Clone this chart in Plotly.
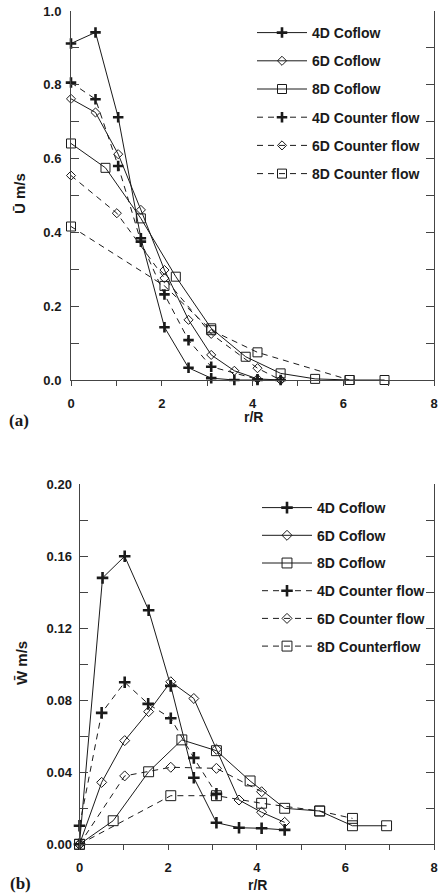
import plotly.graph_objects as go

# ---------------- data: panel (a) mean axial velocity U ----------------
u4co_r = [0, 0.54, 1.04, 1.54, 2.06, 2.59, 3.09, 3.60, 4.11, 4.62]
u4co_v = [0.912, 0.942, 0.712, 0.384, 0.143, 0.033, 0.005, 0.0, 0.0, 0.0]
u6co_r = [0, 0.54, 1.04, 1.54, 2.06, 2.59, 3.09, 3.60, 4.11, 4.62]
u6co_v = [0.762, 0.725, 0.612, 0.461, 0.298, 0.163, 0.068, 0.025, 0.003, 0.0]
u8co_r = [0, 0.76, 1.54, 2.31, 3.09, 3.85, 4.62, 5.38, 6.14, 6.91]
u8co_v = [0.641, 0.575, 0.438, 0.280, 0.140, 0.063, 0.018, 0.003, 0.0, 0.0]
u4ct_r = [0, 0.54, 1.04, 1.54, 2.06, 2.59, 3.09, 4.11]
u4ct_v = [0.806, 0.761, 0.580, 0.375, 0.232, 0.108, 0.036, 0.002]
u6ct_r = [0, 1.01, 2.06, 3.09, 4.11, 4.62]
u6ct_v = [0.554, 0.452, 0.276, 0.125, 0.032, 0.0]
u8ct_r = [0, 2.06, 3.09, 4.11, 6.14]
u8ct_v = [0.416, 0.255, 0.135, 0.075, 0.0]

# ---------------- data: panel (b) mean swirl velocity W ----------------
w4co_r = [0, 0.52, 1.02, 1.56, 2.06, 2.58, 3.09, 3.60, 4.11, 4.63]
w4co_v = [0.0, 0.148, 0.160, 0.130, 0.088, 0.037, 0.012, 0.0092, 0.0089, 0.008]
w6co_r = [0, 0.50, 1.02, 1.56, 2.06, 2.58, 3.09, 3.60, 4.11, 4.63]
w6co_v = [0.0, 0.0344, 0.0576, 0.0737, 0.0903, 0.081, 0.0528, 0.0246, 0.0178, 0.0122]
w8co_r = [0, 0.76, 1.56, 2.31, 3.09, 3.85, 4.63, 5.42, 6.16, 6.93]
w8co_v = [0.0, 0.0131, 0.0403, 0.058, 0.052, 0.0352, 0.020, 0.0185, 0.0103, 0.0103]
w4ct_r = [0, 0.50, 1.02, 1.55, 2.06, 2.58, 3.09]
w4ct_v = [0.0103, 0.073, 0.090, 0.078, 0.070, 0.048, 0.028]
w6ct_r = [0, 1.02, 2.06, 3.09, 4.11]
w6ct_v = [0.0, 0.038, 0.0428, 0.0422, 0.0292]
w8ct_r = [0, 2.06, 3.09, 4.11, 5.42, 6.16]
w8ct_v = [0.0, 0.027, 0.027, 0.0228, 0.0185, 0.0144]

names_a = ["4D Coflow", "6D Coflow", "8D Coflow",
           "4D Counter flow", "6D Counter flow", "8D Counter flow"]
names_b = ["4D Coflow", "6D Coflow", "8D Coflow",
           "4D Counter flow", "6D Counter flow", "8D Counterflow"]

x_ticks = list(range(0, 9))
x_text = [str(v) if v % 2 == 0 else "" for v in x_ticks]
ya_ticks = [round(0.1 * i, 1) for i in range(11)]
ya_text = [f"{v:.1f}" if i % 2 == 0 else "" for i, v in enumerate(ya_ticks)]
yb_ticks = [round(0.02 * i, 2) for i in range(11)]
yb_text = [f"{v:.2f}" if i % 2 == 0 else "" for i, v in enumerate(yb_ticks)]

W, H = 439, 894
def px(x): return x / W
def py(y): return 1 - y / H

RIGHT = 434  # right edge of both plot frames (px)

INK = "#1a1a1a"
DASH = "6px,5px"
FONT = "Liberation Sans"

def style(kind, big=False):
    k = 1.1 if big else 1.0
    if kind == "plus":
        return dict(symbol="cross-thin", size=7.5 * k, color=INK, line=dict(width=2.6, color=INK))
    if kind == "diamond":
        return dict(symbol="diamond-open", size=7 * k, color=INK, line=dict(width=1, color=INK))
    return dict(symbol="square-open", size=9 * k, color=INK, line=dict(width=1, color=INK))

fig = go.Figure()

series_a = [(u4co_r, u4co_v, "plus", "solid"), (u6co_r, u6co_v, "diamond", "solid"),
            (u8co_r, u8co_v, "square", "solid"), (u4ct_r, u4ct_v, "plus", DASH),
            (u6ct_r, u6ct_v, "diamond", DASH), (u8ct_r, u8ct_v, "square", DASH)]
series_b = [(w4co_r, w4co_v, "plus", "solid"), (w6co_r, w6co_v, "diamond", "solid"),
            (w8co_r, w8co_v, "square", "solid"), (w4ct_r, w4ct_v, "plus", DASH),
            (w6ct_r, w6ct_v, "diamond", DASH), (w8ct_r, w8ct_v, "square", DASH)]

for i, (r, v, m, d) in enumerate(series_a):
    fig.add_trace(go.Scatter(x=r, y=v, mode="lines+markers", name=names_a[i],
                             line=dict(color=INK, width=1, dash=d), marker=style(m),
                             cliponaxis=False, xaxis="x", yaxis="y",
                             legend="legend", legendgroup=f"a{i}"))
for i, (r, v, m, d) in enumerate(series_b):
    fig.add_trace(go.Scatter(x=r, y=v, mode="lines+markers", name=names_b[i],
                             line=dict(color=INK, width=1, dash=d), marker=style(m, True),
                             cliponaxis=False, xaxis="x2", yaxis="y2",
                             legend="legend2", legendgroup=f"b{i}"))

tickfont = dict(family=FONT, size=13, color=INK, weight="bold")
axis_common = dict(showgrid=False, zeroline=False, showline=True, linecolor="#444",
                   linewidth=1, tickcolor="#444", tickwidth=1, tickfont=tickfont,
                   automargin=False, ticklabeloverflow="allow")

legfont = dict(family=FONT, size=14, color=INK, weight="bold")

fig.update_layout(
    width=W, height=H, margin=dict(l=0, r=0, t=0, b=0),
    paper_bgcolor="white", plot_bgcolor="white",
    xaxis=dict(domain=[px(71), px(RIGHT)], anchor="y", range=[0, 8],
               tickvals=x_ticks, ticktext=x_text, ticks="outside", ticklen=5,
               ticklabelstandoff=6, **axis_common),
    yaxis=dict(domain=[py(380), py(11)], anchor="x", range=[0, 1],
               tickvals=ya_ticks, ticktext=ya_text, ticks="inside", ticklen=8,
               mirror="ticks", ticklabelstandoff=6, **axis_common),
    xaxis3=dict(domain=[px(71), px(RIGHT)], anchor="y", overlaying="x", side="top",
                range=[0, 8], tickvals=x_ticks, showticklabels=False,
                ticks="inside", ticklen=5, **axis_common),
    xaxis2=dict(domain=[px(79.5), px(RIGHT)], anchor="y2", range=[0, 8],
                tickvals=x_ticks, ticktext=x_text, ticks="outside", ticklen=5,
                ticklabelstandoff=6, **axis_common),
    yaxis2=dict(domain=[py(844.3), py(484.3)], anchor="x2", range=[0, 0.2],
                tickvals=yb_ticks, ticktext=yb_text, ticks="inside", ticklen=8,
                mirror="ticks", ticklabelstandoff=4, **axis_common),
    xaxis4=dict(domain=[px(79.5), px(RIGHT)], anchor="y2", overlaying="x2", side="top",
                range=[0, 8], tickvals=x_ticks, showticklabels=False,
                ticks="inside", ticklen=5, **axis_common),
    legend=dict(x=px(252), y=py(17), xanchor="left", yanchor="top",
                font=legfont, bgcolor="rgba(0,0,0,0)", tracegroupgap=7,
                traceorder="grouped", itemwidth=50),
    legend2=dict(x=px(257), y=py(492), xanchor="left", yanchor="top",
                 font=legfont, bgcolor="rgba(0,0,0,0)", tracegroupgap=6.5,
                 traceorder="grouped", itemwidth=50),
    showlegend=True,
)

ann_font = dict(family=FONT, size=14, color=INK, weight="bold")
fig.add_annotation(text="r/R", x=px(253), y=py(417), xref="paper", yref="paper",
                   showarrow=False, font=ann_font, xanchor="center", yanchor="middle")
fig.add_annotation(text="r/R", x=px(257), y=py(885), xref="paper", yref="paper",
                   showarrow=False, font=ann_font, xanchor="center", yanchor="middle")
fig.add_annotation(text="U\u0304 m/s", x=px(20), y=py(194), xref="paper", yref="paper",
                   showarrow=False, font=dict(family=FONT, size=15, color=INK, weight="bold"),
                   textangle=-90, xanchor="center", yanchor="middle")
fig.add_annotation(text="W\u0304 m/s", x=px(21), y=py(663), xref="paper", yref="paper",
                   showarrow=False, font=dict(family=FONT, size=15, color=INK, weight="bold"),
                   textangle=-90, xanchor="center", yanchor="middle")
panel_font = dict(family="Liberation Serif", size=17, color=INK, weight="bold")
fig.add_annotation(text="(a)", x=px(19), y=py(420), xref="paper", yref="paper",
                   showarrow=False, font=panel_font, xanchor="center", yanchor="middle")
fig.add_annotation(text="(b)", x=px(20), y=py(883), xref="paper", yref="paper",
                   showarrow=False, font=panel_font, xanchor="center", yanchor="middle")

fig.write_html("out.html")
